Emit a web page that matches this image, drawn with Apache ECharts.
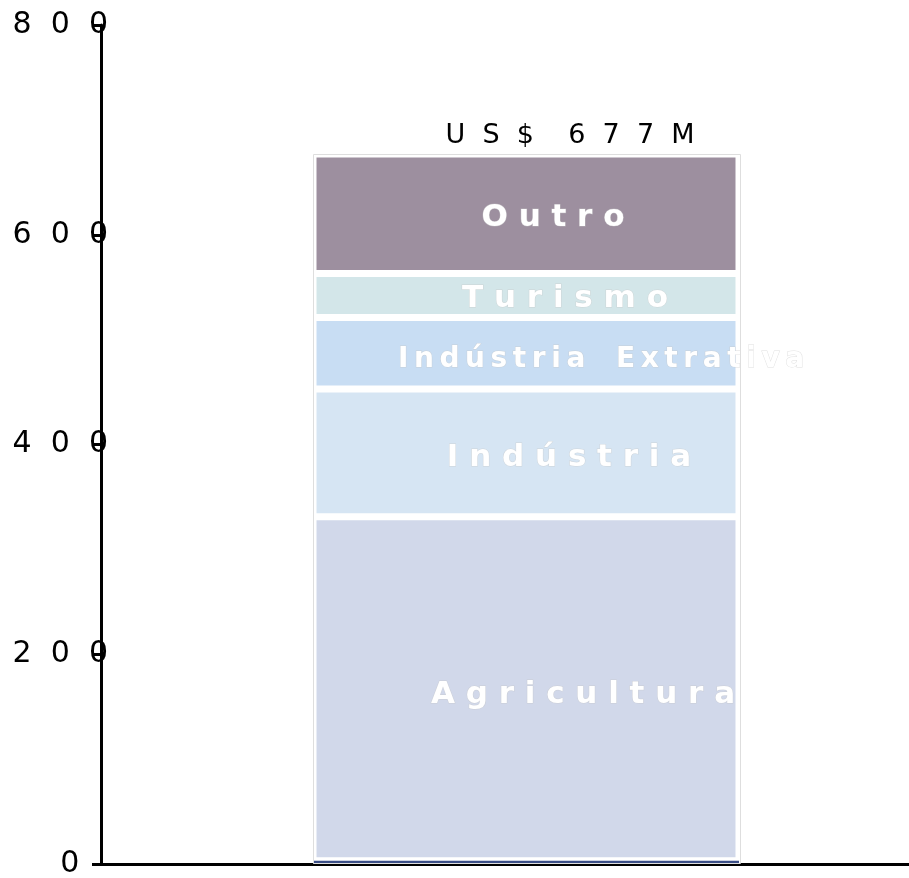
<!DOCTYPE html>
<html>
<head>
<meta charset="utf-8">
<script src="https://cdn.jsdelivr.net/npm/echarts@6/dist/echarts.min.js"></script>
<style>
html,body{margin:0;padding:0;background:#fff;}
#chart{width:909px;height:878px;}
</style>
</head>
<body>
<div id="chart"></div>
<script>
// ---- data ----
const categories = ['Total'];
const segmentNames = ['Agricultura', 'Indústria', 'Indústria Extrativa', 'Turismo', 'Outro'];
const segmentValues = [328, 122, 68, 42, 114];
const baseSliver = 3;          // thin dark strip at the bottom of the bar
const totalValue = 677;
const totalLabel = 'US$ 677M';
const yTicks = [0, 200, 400, 600, 800];

// ---- styles ----
const segmentColors = ['#d1d8ea', '#d6e5f3', '#c8ddf3', '#d3e6e9', '#9d8f9f'];
const labelShift = [57, 43, 75, 39, 27];
const labelDrop = [6, 5, 6, 3, 4];
const labelSizes = [31, 31, 28, 31, 31];
const labelSeps = [' ', ' ', '\u2009', ' ', ' '];

function spaced(s, sep, spaceAs) {
  return s.split('').map(c => c === ' ' ? (spaceAs !== undefined ? spaceAs : sep) : c).join(sep);
}

const chart = echarts.init(document.getElementById('chart'), null, {renderer: 'canvas'});

const series = [{
  name: 'base',
  type: 'bar',
  stack: 'a',
  barWidth: 426,
  data: [baseSliver],
  itemStyle: {color: '#3b4e86', borderWidth: 0},
  z: 3,
  silent: true
}];
segmentNames.forEach((n, i) => {
  series.push({
    name: n,
    type: 'bar',
    stack: 'a',
    barWidth: 426,
    data: [segmentValues[i]],
    itemStyle: {color: segmentColors[i], borderColor: '#ffffff', borderWidth: 3.5},
    label: {
      show: true,
      position: 'inside',
      formatter: () => spaced(n, labelSeps[i], labelSeps[i] === ' ' ? ' ' : '  '),
      color: '#ffffff',
      fontFamily: 'DejaVu Sans',
      fontWeight: 'bold',
      fontSize: labelSizes[i],
      offset: [labelShift[i], labelDrop[i]],
      textBorderColor: 'rgba(200,200,200,0.55)',
      textBorderWidth: 1
    },
    z: 2
  });
});
series.push({
  name: 'outline',
  type: 'bar',
  barGap: '-100%',
  barWidth: 428,
  data: [totalValue],
  itemStyle: {color: 'rgba(0,0,0,0)', borderColor: '#dedede', borderWidth: 1},
  label: {
    show: true,
    position: 'top',
    distance: 5,
    formatter: () => spaced(totalLabel, '  ', ''),
    color: '#000',
    fontFamily: 'DejaVu Sans',
    fontSize: 27,
    offset: [43, 0]
  },
  z: 4,
  silent: true
});

chart.setOption({
  animation: false,
  backgroundColor: '#ffffff',
  grid: {left: 101, right: -44, top: 25, bottom: 14, outerBoundsMode: 'none', containLabel: false},
  xAxis: {
    type: 'category',
    data: categories,
    axisLine: {show: true, lineStyle: {color: '#000', width: 3}},
    axisTick: {show: false},
    axisLabel: {show: false},
    splitLine: {show: false}
  },
  yAxis: {
    type: 'value',
    min: 0,
    max: 800,
    interval: 200,
    axisLine: {show: true, lineStyle: {color: '#000', width: 3}},
    axisTick: {show: true, length: 9, lineStyle: {color: '#000', width: 3}},
    splitLine: {show: false},
    axisLabel: {
      show: true,
      align: 'right',
      margin: -7,
      color: '#000',
      fontFamily: 'DejaVu Sans',
      fontSize: 30,
      formatter: v => {
        const s = spaced(String(v), '  ');
        return s.length < 3 ? s + '   ' : s;
      }
    }
  },
  series: series
});
</script>
</body>
</html>
